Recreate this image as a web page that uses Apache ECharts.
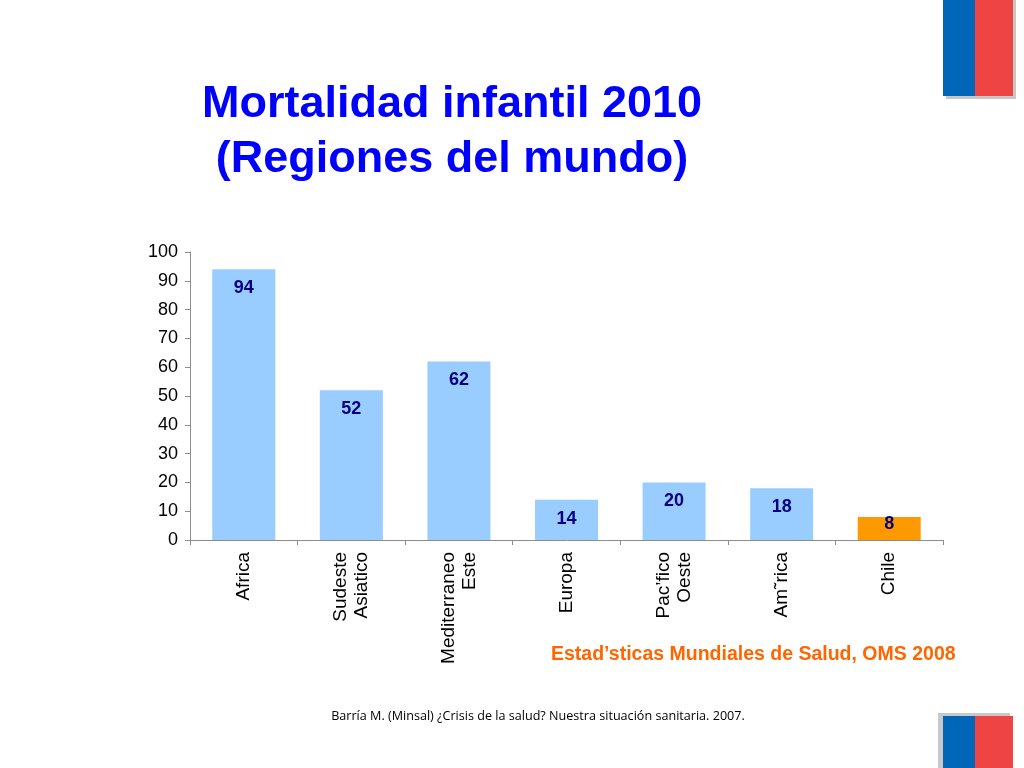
<!DOCTYPE html>
<html>
<head>
<meta charset="utf-8">
<script src="https://cdn.jsdelivr.net/npm/echarts@6/dist/echarts.min.js"></script>
<style>
html,body{margin:0;padding:0;background:#fff;}
#chart{width:1024px;height:768px;}
</style>
</head>
<body>
<div id="chart"></div>
<script>
const categories = ['Africa', 'Sudeste\nAsiatico', 'Mediterraneo\nEste', 'Europa', 'Pac’fico\nOeste', 'Am˜rica', 'Chile'];
const values = [94, 52, 62, 14, 20, 18, 8];
const highlightCategory = 'Chile';
const yTicks = [0, 10, 20, 30, 40, 50, 60, 70, 80, 90, 100];

const chart = echarts.init(document.getElementById('chart'));
const font = 'Liberation Sans, Arial, sans-serif';
chart.setOption({
  backgroundColor: '#ffffff',
  animation: false,
  grid: { left: 190, right: 81, top: 252, bottom: 228 },
  xAxis: {
    type: 'category',
    data: categories,
    axisLine: { lineStyle: { color: '#8c8c8c', width: 1 } },
    axisTick: { show: true, length: 5, lineStyle: { color: '#8c8c8c' } },
    axisLabel: { rotate: 90, color: '#000', fontFamily: font, fontSize: 19, margin: 12, lineHeight: 21, interval: 0 }
  },
  yAxis: {
    type: 'value',
    min: yTicks[0], max: yTicks[yTicks.length - 1], interval: 10,
    splitLine: { show: false },
    axisLine: { show: true, lineStyle: { color: '#8c8c8c', width: 1 } },
    axisTick: { show: true, length: 5, lineStyle: { color: '#8c8c8c' } },
    axisLabel: { color: '#000', fontFamily: font, fontSize: 18, margin: 12 }
  },
  series: [{
    type: 'bar',
    barWidth: 63,
    data: values.map((v, i) => {
      const hi = categories[i] === highlightCategory;
      const item = { value: v, itemStyle: { color: hi ? '#ff9900' : '#99ccff' } };
      if (hi) item.label = { offset: [0, -12] };
      return item;
    }),
    label: {
      show: true, position: 'insideTop', distance: 10,
      color: '#000080', fontFamily: font, fontSize: 18, fontWeight: 'bold'
    }
  }],
  graphic: [
    { type: 'text', x: 452, y: 105, style: { text: 'Mortalidad infantil 2010', fill: '#0000ff', font: 'bold 45px ' + font, textAlign: 'center', textVerticalAlign: 'middle' } },
    { type: 'text', x: 452, y: 160, style: { text: '(Regiones del mundo)', fill: '#0000ff', font: 'bold 45px ' + font, textAlign: 'center', textVerticalAlign: 'middle' } },
    { type: 'text', x: 551, y: 655, style: { text: 'Estad’sticas Mundiales de Salud, OMS 2008', fill: '#ff6600', font: 'bold 19.5px ' + font, textAlign: 'left', textVerticalAlign: 'middle' } },
    { type: 'text', x: 538, y: 716, style: { text: 'Barría M. (Minsal) ¿Crisis de la salud? Nuestra situación sanitaria. 2007.', fill: '#000', font: '12.6px "Open Sans", sans-serif', textAlign: 'center', textVerticalAlign: 'middle' } },
    { type: 'rect', shape: { x: 946, y: 0, width: 70, height: 99 }, style: { fill: '#c8c8c8' } },
    { type: 'rect', shape: { x: 943, y: 0, width: 32, height: 96 }, style: { fill: '#0066b8' } },
    { type: 'rect', shape: { x: 975, y: 0, width: 38, height: 96 }, style: { fill: '#ef4444' } },
    { type: 'rect', shape: { x: 938, y: 713, width: 72, height: 55 }, style: { fill: '#c8c8c8' } },
    { type: 'rect', shape: { x: 943, y: 716, width: 32, height: 52 }, style: { fill: '#0066b8' } },
    { type: 'rect', shape: { x: 975, y: 716, width: 38, height: 52 }, style: { fill: '#ef4444' } }
  ]
});
</script>
</body>
</html>
